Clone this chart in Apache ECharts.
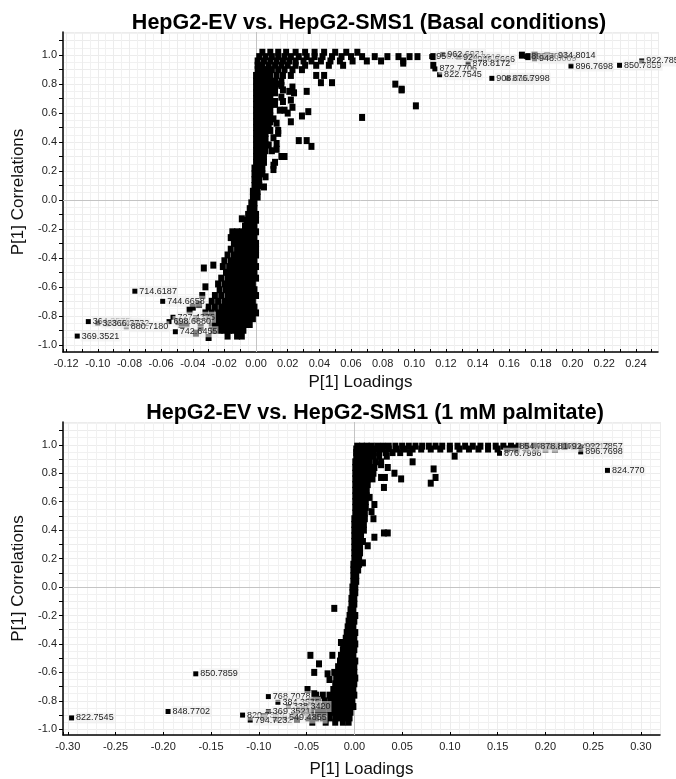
<!DOCTYPE html>
<html>
<head>
<meta charset="utf-8">
<title>S-plot</title>
<script src="https://cdn.jsdelivr.net/npm/echarts@6/dist/echarts.min.js"></script>
<style>
  html, body { margin: 0; padding: 0; background: #fff; }
  #chart { width: 676px; height: 779px; }
</style>
</head>
<body>
<div id="chart"></div>
<script>
// titles and axis names
var titles = ['HepG2-EV vs. HepG2-SMS1 (Basal conditions)', 'HepG2-EV vs. HepG2-SMS1 (1 mM palmitate)'];
var xName = 'P[1] Loadings';
var yName = 'P[1] Correlations';

// ---- basal: dense cloud read row by row, [correlation, [loadings...]]
var basalRows = [
  [1.02, [0.004, 0.009, 0.014, 0.019, 0.025, 0.031, 0.037, 0.043, 0.050, 0.057, 0.064]],
  [0.99, [0.002, 0.006, 0.010, 0.014, 0.018, 0.022, 0.027, 0.032, 0.037, 0.042, 0.048, 0.054, 0.060, 0.067, 0.075, 0.083, 0.090, 0.097, 0.102]],
  [0.96, [0.001, 0.005, 0.009, 0.013, 0.017, 0.021, 0.025, 0.030, 0.035, 0.041, 0.047, 0.053, 0.061, 0.070, 0.079, 0.093]],
  [0.93, [0.001, 0.004, 0.008, 0.012, 0.016, 0.020, 0.025, 0.031, 0.038, 0.046, 0.055]],
  [0.90, [0.001, 0.004, 0.007, 0.010, 0.014, 0.018, 0.023, 0.029]],
  [0.86, [0.000, 0.003, 0.006, 0.009, 0.013, 0.017, 0.022]],
  [0.82, [0.000, 0.003, 0.006, 0.009, 0.012, 0.016]],
  [0.78, [0.000, 0.003, 0.006, 0.009, 0.012]],
  [0.74, [0.000, 0.003, 0.006, 0.009, 0.012]],
  [0.70, [0.000, 0.003, 0.006, 0.009]],
  [0.66, [0.000, 0.003, 0.006, 0.009, 0.012]],
  [0.62, [0.000, 0.003, 0.006, 0.009]],
  [0.58, [0.000, 0.003, 0.006, 0.009]],
  [0.54, [0.000, 0.003, 0.006, 0.009]],
  [0.50, [0.000, 0.003, 0.006, 0.008]],
  [0.46, [0.000, 0.003, 0.006]],
  [0.42, [0.000, 0.003, 0.006]],
  [0.38, [0.000, 0.003, 0.006, 0.008]],
  [0.34, [0.000, 0.003, 0.006]],
  [0.30, [0.000, 0.003, 0.005]],
  [0.26, [0.000, 0.003, 0.005]],
  [0.22, [-0.001, 0.002, 0.004]],
  [0.18, [-0.001, 0.002, 0.004]],
  [0.14, [-0.001, 0.002]],
  [0.10, [-0.001, 0.002]],
  [0.06, [-0.002, 0.001]],
  [0.02, [-0.002, 0.001]],
  [-0.02, [-0.003, -0.001]],
  [-0.06, [-0.004, -0.001]],
  [-0.10, [-0.005, -0.002, 0.000]],
  [-0.14, [-0.006, -0.003, 0.000]],
  [-0.18, [-0.007, -0.004, -0.001]],
  [-0.22, [-0.015, -0.012, -0.009, -0.006, -0.003, 0.000]],
  [-0.26, [-0.016, -0.013, -0.010, -0.007, -0.004, -0.001]],
  [-0.30, [-0.014, -0.011, -0.008, -0.005, -0.002, 0.000]],
  [-0.34, [-0.016, -0.012, -0.009, -0.006, -0.003, 0.000]],
  [-0.38, [-0.018, -0.014, -0.011, -0.008, -0.005, -0.002, 0.000]],
  [-0.42, [-0.020, -0.016, -0.013, -0.010, -0.007, -0.004, -0.001]],
  [-0.46, [-0.021, -0.017, -0.014, -0.011, -0.008, -0.005, -0.002, 0.000]],
  [-0.50, [-0.019, -0.016, -0.013, -0.010, -0.007, -0.004, -0.001]],
  [-0.54, [-0.022, -0.018, -0.015, -0.012, -0.009, -0.006, -0.003, 0.000]],
  [-0.58, [-0.024, -0.020, -0.017, -0.014, -0.011, -0.008, -0.005, -0.002]],
  [-0.62, [-0.023, -0.019, -0.016, -0.013, -0.010, -0.007, -0.004, -0.001]],
  [-0.66, [-0.026, -0.022, -0.018, -0.015, -0.012, -0.009, -0.006, -0.003, 0.000]],
  [-0.70, [-0.028, -0.024, -0.020, -0.017, -0.014, -0.011, -0.008, -0.005, -0.002]],
  [-0.74, [-0.030, -0.026, -0.022, -0.019, -0.016, -0.013, -0.010, -0.007, -0.004, -0.001]],
  [-0.78, [-0.032, -0.028, -0.024, -0.021, -0.018, -0.015, -0.012, -0.009, -0.006, -0.003, 0.000]],
  [-0.82, [-0.030, -0.026, -0.023, -0.020, -0.017, -0.014, -0.011, -0.008, -0.005, -0.002]],
  [-0.86, [-0.028, -0.025, -0.022, -0.019, -0.016, -0.013, -0.010, -0.007, -0.004]],
  [-0.90, [-0.027, -0.023, -0.020, -0.017, -0.014, -0.011, -0.008]],
  [-0.94, [-0.018, -0.012, -0.009]]
];
// basal: scattered single variables [loading, correlation]
var basalScatter = [
  [0.015, 0.80], [0.017, 0.76], [0.016, 0.71], [0.012, 0.68], [0.017, 0.68], [0.021, 0.75],
  [0.022, 0.69], [0.023, 0.64], [0.015, 0.62], [0.018, 0.62], [0.020, 0.60], [0.011, 0.56],
  [0.013, 0.53], [0.009, 0.48], [0.014, 0.48], [0.011, 0.43], [0.010, 0.34], [0.016, 0.30],
  [0.012, 0.26], [0.006, 0.16], [0.005, 0.09], [0.027, 0.41], [0.032, 0.41], [0.035, 0.37],
  [0.018, 0.30], [0.022, 0.54], [0.033, 0.61], [0.029, 0.58], [0.041, 0.81], [0.048, 0.81],
  [0.038, 0.86], [0.043, 0.86], [0.032, 0.75], [0.023, 0.78], [0.024, 0.74], [0.016, 0.79],
  [0.014, 0.46], [0.013, 0.39], [0.013, 0.35], [0.011, 0.24], [0.011, 0.21],
  [0.067, 0.57], [0.101, 0.65], [0.088, 0.80], [0.092, 0.765], [0.092, 0.76],
  [0.112, 0.93], [0.112, 0.99], [0.093, 0.945],
  [0.168, 1.00], [0.172, 0.99], [0.176, 1.00], [0.180, 0.99], [0.184, 0.995],
  [-0.033, -0.47], [-0.027, -0.45], [-0.036, -0.72], [-0.040, -0.74], [-0.042, -0.76],
  [-0.049, -0.84], [-0.047, -0.86], [-0.044, -0.855], [-0.035, -0.88], [-0.038, -0.82],
  [-0.009, -0.13], [-0.032, -0.60], [-0.034, -0.66], [-0.038, -0.92], [-0.030, -0.95]
];
// basal: labelled variables [loading, correlation, name]
var basalLabelled = [
  [0.111, 0.99, '950.6896'], [0.118, 1.005, '962.6931'], [0.128, 0.985, '924.7612'],
  [0.137, 0.97, '946.5666'], [0.134, 0.945, '878.8172'], [0.113, 0.905, '872.7706'],
  [0.116, 0.865, '822.7545'], [0.149, 0.84, '908.8165'], [0.159, 0.84, '876.7998'],
  [0.171, 0.99, '896.7695'], [0.176, 0.975, '948.8069'], [0.188, 0.995, '934.8014'],
  [0.199, 0.925, '896.7698'], [0.2297, 0.93, '850.7859'], [0.2437, 0.96, '922.7859'],
  [-0.0766, -0.63, '714.6187'], [-0.059, -0.70, '744.6658'], [-0.106, -0.84, '364.3575'],
  [-0.100, -0.85, '338.3420'], [-0.094, -0.855, '366.3732'], [-0.082, -0.875, '880.7180'],
  [-0.113, -0.94, '369.3521'], [-0.0525, -0.81, '727.4375'], [-0.055, -0.84, '698.6880'],
  [-0.051, -0.91, '742.6455']
];

// ---- palmitate: dense cloud rows
var palmRows = [
  [0.99, [0.003, 0.008, 0.013, 0.018, 0.024, 0.030, 0.036, 0.043, 0.050, 0.057, 0.064, 0.071, 0.078, 0.085, 0.092, 0.100, 0.108, 0.116, 0.124, 0.132, 0.140, 0.148, 0.156, 0.164, 0.172, 0.180, 0.188, 0.196, 0.204, 0.212, 0.220, 0.230]],
  [0.97, [0.002, 0.007, 0.012, 0.017, 0.023, 0.029, 0.036, 0.044, 0.052, 0.061, 0.070, 0.080, 0.090, 0.100, 0.110, 0.120, 0.130, 0.140, 0.150, 0.160, 0.170, 0.180, 0.190, 0.200, 0.210]],
  [0.945, [0.002, 0.006, 0.010, 0.015, 0.020, 0.026, 0.033, 0.040, 0.048, 0.058]],
  [0.92, [0.002, 0.006, 0.010, 0.015, 0.020, 0.026, 0.034]],
  [0.88, [0.001, 0.006, 0.011, 0.016, 0.022, 0.028]],
  [0.84, [0.001, 0.006, 0.011, 0.016, 0.021]],
  [0.80, [0.001, 0.005, 0.010, 0.015, 0.020]],
  [0.76, [0.001, 0.005, 0.010, 0.014, 0.019]],
  [0.72, [0.001, 0.005, 0.009, 0.014]],
  [0.68, [0.001, 0.005, 0.009, 0.013]],
  [0.64, [0.001, 0.005, 0.009, 0.013]],
  [0.60, [0.001, 0.005, 0.009, 0.012]],
  [0.56, [0.001, 0.004, 0.008, 0.012]],
  [0.52, [0.001, 0.004, 0.008, 0.011]],
  [0.48, [0.000, 0.004, 0.008, 0.011]],
  [0.44, [0.000, 0.004, 0.007, 0.010]],
  [0.40, [0.000, 0.004, 0.007, 0.010]],
  [0.36, [0.000, 0.003, 0.007]],
  [0.32, [0.000, 0.003, 0.006, 0.009]],
  [0.28, [0.000, 0.003, 0.006]],
  [0.24, [0.000, 0.003, 0.006]],
  [0.20, [0.000, 0.003, 0.005]],
  [0.16, [-0.001, 0.002, 0.005]],
  [0.12, [-0.001, 0.002, 0.004]],
  [0.08, [-0.001, 0.002]],
  [0.04, [-0.001, 0.002]],
  [0.00, [-0.002, 0.001]],
  [-0.04, [-0.002, 0.001]],
  [-0.08, [-0.003, 0.000]],
  [-0.12, [-0.003, 0.000]],
  [-0.16, [-0.004, -0.001]],
  [-0.20, [-0.005, -0.002, 0.001]],
  [-0.24, [-0.006, -0.003, 0.000]],
  [-0.28, [-0.007, -0.004, -0.001]],
  [-0.32, [-0.008, -0.005, -0.002, 0.001]],
  [-0.36, [-0.009, -0.006, -0.003, 0.000]],
  [-0.40, [-0.011, -0.008, -0.005, -0.002, 0.001]],
  [-0.44, [-0.012, -0.009, -0.006, -0.003, 0.000]],
  [-0.48, [-0.014, -0.010, -0.007, -0.004, -0.001]],
  [-0.52, [-0.015, -0.011, -0.008, -0.005, -0.002, 0.001]],
  [-0.56, [-0.017, -0.013, -0.009, -0.006, -0.003, 0.000]],
  [-0.60, [-0.016, -0.012, -0.009, -0.006, -0.003, 0.000]],
  [-0.64, [-0.019, -0.015, -0.011, -0.008, -0.005, -0.002, 0.001]],
  [-0.68, [-0.020, -0.016, -0.012, -0.009, -0.006, -0.003, 0.000]],
  [-0.72, [-0.022, -0.018, -0.014, -0.010, -0.007, -0.004, -0.001]],
  [-0.76, [-0.040, -0.033, -0.026, -0.021, -0.017, -0.013, -0.009, -0.006, -0.003, 0.000]],
  [-0.80, [-0.045, -0.038, -0.031, -0.025, -0.020, -0.016, -0.012, -0.008, -0.005, -0.002]],
  [-0.84, [-0.050, -0.043, -0.036, -0.029, -0.024, -0.019, -0.015, -0.011, -0.007, -0.004, -0.001]],
  [-0.88, [-0.052, -0.045, -0.038, -0.032, -0.026, -0.021, -0.016, -0.012, -0.008, -0.004]],
  [-0.92, [-0.048, -0.040, -0.033, -0.026, -0.020, -0.014, -0.009, -0.005]],
  [-0.95, [-0.044, -0.030, -0.020, -0.012, -0.006]]
];
var palmScatter = [
  [0.105, 0.92], [0.061, 0.88], [0.083, 0.83], [0.085, 0.77], [0.080, 0.73], [0.049, 0.76],
  [0.042, 0.80], [0.028, 0.77], [0.032, 0.77], [0.031, 0.70], [0.035, 0.38], [0.031, 0.38],
  [0.021, 0.58], [0.018, 0.53], [0.016, 0.63], [0.020, 0.48], [0.021, 0.35], [0.014, 0.29],
  [0.009, 0.17], [0.028, 0.86], [0.035, 0.84],
  [-0.021, -0.15], [-0.046, -0.48], [-0.023, -0.48], [-0.037, -0.54], [-0.042, -0.60],
  [-0.028, -0.61], [-0.021, -0.60], [-0.026, -0.65], [-0.014, -0.39], [-0.049, -0.72],
  [-0.042, -0.75], [-0.038, -0.79], [-0.058, -0.86], [-0.063, -0.90], [-0.060, -0.93],
  [-0.082, -0.92], [-0.095, -0.91]
];
var palmLabelled = [
  [0.152, 0.94, '876.7998'], [0.168, 0.985, '854.7705'], [0.190, 0.99, '878.8172'],
  [0.223, 0.99, '924.8014'], [0.237, 0.985, '922.7857'], [0.237, 0.95, '896.7698'],
  [0.265, 0.82, '824.770'],
  [-0.166, -0.61, '850.7859'], [-0.195, -0.875, '848.7702'], [-0.296, -0.92, '822.7545'],
  [-0.117, -0.90, '820.7389'], [-0.109, -0.935, '794.7232'], [-0.090, -0.77, '768.7078'],
  [-0.080, -0.81, '384.3575'], [-0.069, -0.84, '338.3420'], [-0.090, -0.875, '369.3521'],
  [-0.073, -0.92, '549.4855']
];

function rowsToPoints(rows) {
  var pts = [];
  rows.forEach(function (r) {
    r[1].forEach(function (x) { pts.push([x, r[0]]); });
  });
  return pts;
}

var font = 'Liberation Sans, Arial, Helvetica, sans-serif';

function isStep(v, step) {
  return Math.abs(v / step - Math.round(v / step)) < 1e-6;
}
function fmtY(v) {
  if (!isStep(v, 0.2)) return '';
  if (Math.abs(v) < 1e-9) return '0.0';
  return v.toFixed(1);
}
function fmtX(step) {
  return function (v) {
    if (!isStep(v, step)) return '';
    if (Math.abs(v) < 1e-9) return '0.00';
    return v.toFixed(2);
  };
}

function xAxisFor(idx, min, max, split, step, minorSplit, nameGap) {
  return {
    gridIndex: idx, type: 'value', min: min, max: max, splitNumber: split,
    name: xName, nameLocation: 'middle', nameGap: nameGap,
    nameTextStyle: { fontFamily: font, fontSize: 17, color: '#111' },
    axisLine: { show: true, onZero: false, lineStyle: { color: '#000', width: 1.5 } },
    axisTick: { show: true, inside: true, length: 3, lineStyle: { color: '#000' } },
    minorTick: { show: false, splitNumber: minorSplit },
    axisLabel: { fontFamily: font, fontSize: 11, color: '#222', margin: 6,
      showMinLabel: true, showMaxLabel: false, formatter: fmtX(step) },
    splitLine: { show: true, lineStyle: { color: '#ececec', width: 1 } },
    minorSplitLine: { show: true, lineStyle: { color: '#f1f1f1', width: 1 } }
  };
}
function yAxisFor(idx, min, max) {
  return {
    gridIndex: idx, type: 'value', min: min, max: max, splitNumber: 22,
    name: yName, nameLocation: 'middle', nameGap: 36,
    nameTextStyle: { fontFamily: font, fontSize: 17, color: '#111' },
    axisLine: { show: true, onZero: false, lineStyle: { color: '#000', width: 1.5 } },
    axisTick: { show: true, length: 4, lineStyle: { color: '#000' } },
    minorTick: { show: false, splitNumber: 2 },
    axisLabel: { fontFamily: font, fontSize: 11, color: '#222', margin: 6,
      showMinLabel: false, showMaxLabel: false, formatter: fmtY },
    splitLine: { show: true, lineStyle: { color: '#ececec', width: 1 } },
    minorSplitLine: { show: true, lineStyle: { color: '#f1f1f1', width: 1 } }
  };
}

// gray zero lines, drawn underneath the points
function zeroLines(idx) {
  return {
    type: 'scatter', xAxisIndex: idx, yAxisIndex: idx, data: [], z: 1, silent: true,
    markLine: {
      z: 1, silent: true, symbol: 'none', label: { show: false },
      lineStyle: { color: '#c4c4c4', width: 1, type: 'solid' },
      data: [{ xAxis: 0 }, { yAxis: 0 }]
    }
  };
}
function cloudSeries(idx, pts) {
  return {
    type: 'scatter', xAxisIndex: idx, yAxisIndex: idx, data: pts, z: 2,
    symbol: 'rect', symbolSize: [6, 7], itemStyle: { color: '#000', opacity: 1 }, silent: true
  };
}
function labelSeries(idx, items) {
  return {
    type: 'scatter', xAxisIndex: idx, yAxisIndex: idx, z: 3,
    data: items.map(function (d) { return { value: [d[0], d[1]], name: d[2] }; }),
    symbol: 'rect', symbolSize: 5, itemStyle: { color: '#000', opacity: 1 }, silent: true,
    label: {
      show: true, position: 'right', distance: 1, formatter: '{b}',
      fontFamily: font, fontSize: 9, color: '#222',
      backgroundColor: 'rgba(236,236,236,0.55)', padding: [1, 1]
    }
  };
}

var chart = echarts.init(document.getElementById('chart'), null, { renderer: 'canvas' });
chart.setOption({
  animation: false,
  backgroundColor: '#fff',
  title: [
    { text: titles[0], left: 364, top: 7, textAlign: 'center',
      textStyle: { fontFamily: font, fontSize: 21.5, fontWeight: 'bold', color: '#000' } },
    { text: titles[1], left: 370, top: 397, textAlign: 'center',
      textStyle: { fontFamily: font, fontSize: 21.5, fontWeight: 'bold', color: '#000' } }
  ],
  grid: [
    { left: 63, right: 18, top: 32, height: 320 },
    { left: 63, right: 16, top: 422, height: 319 }
  ],
  xAxis: [
    xAxisFor(0, -0.122, 0.254, 38, 0.02, 2, 22),
    xAxisFor(1, -0.305, 0.320, 13, 0.05, 5, 26)
  ],
  yAxis: [
    yAxisFor(0, -1.05, 1.16),
    yAxisFor(1, -1.04, 1.16)
  ],
  series: [
    zeroLines(0),
    cloudSeries(0, rowsToPoints(basalRows).concat(basalScatter)),
    labelSeries(0, basalLabelled),
    zeroLines(1),
    cloudSeries(1, rowsToPoints(palmRows).concat(palmScatter)),
    labelSeries(1, palmLabelled)
  ]
});
</script>
</body>
</html>
